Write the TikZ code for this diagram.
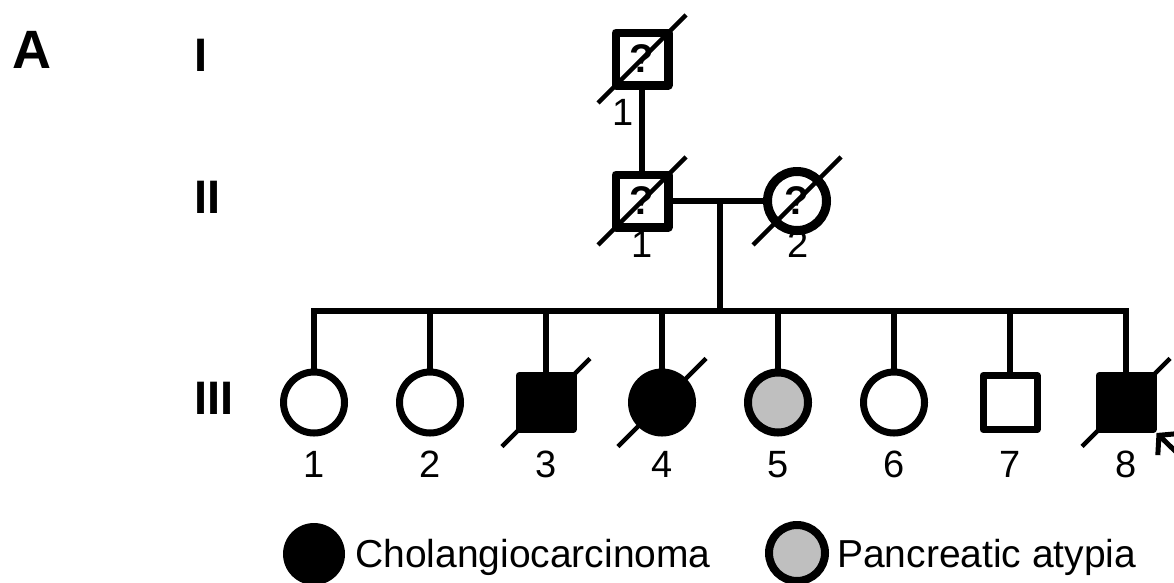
\documentclass[tikz,border=0pt]{standalone}
\usepackage{fontspec}
\setmainfont{Liberation Sans}
\usetikzlibrary{arrows.meta}
\definecolor{affgray}{RGB}{191,191,191}
\newcommand\deceasedmark[1]{\draw[slashline] ([shift={(-44,44)}]#1.center) -- ([shift={(44,-44)}]#1.center);}
\begin{document}
\begin{tikzpicture}[x=1pt,y=-1pt,
  male/.style={draw, rectangle, minimum size=54pt, inner sep=0pt, line width=7pt, line join=round},
  female/.style={draw, circle, minimum size=61pt, inner sep=0pt, line width=7pt},
  affected/.style={fill=black},
  pancreatic/.style={fill=affgray, line width=8pt, minimum size=60pt},
  conn/.style={line width=6pt},
  slashline/.style={line width=4.5pt},
  qmark/.style={inner sep=0pt, font=\fontsize{40}{42}\selectfont\bfseries},
  num/.style={anchor=base, inner sep=0pt, font=\fontsize{38}{40}\selectfont},
  gen/.style={anchor=base west, inner sep=0pt, font=\fontsize{47}{50}\selectfont\bfseries},
  legtext/.style={anchor=base west, inner sep=0pt, font=\fontsize{39}{42}\selectfont}]
\clip (0,0) rectangle (1174,582);
% panel letter and generation labels
\node[anchor=base west, inner sep=0pt, font=\fontsize{54}{56}\selectfont\bfseries] (panel) at (12,68) {A};
\node[gen] (genI) at (194,71) {I};
\node[gen] (genII) at (194,213) {II};
\node[gen] (genIII) at (194,414) {III};
% generation I
\node[male, line width=8.5pt, minimum size=52.5pt] (I1) at (642,59) {};
\node[qmark] (I1q) at (I1.center) {?};
\deceasedmark{I1}
\node[num] (I1n) at (623,125) {1};
% generation II
\node[male, line width=8.5pt, minimum size=52.5pt] (II1) at (642,201) {};
\node[qmark] (II1q) at (II1.center) {?};
\deceasedmark{II1}
\node[num] (II1n) at (642,257) {1};
\node[female, line width=9pt, minimum size=59pt] (II2) at (797,201) {};
\node[qmark] (II2q) at (II2.center) {?};
\deceasedmark{II2}
\node[num] (II2n) at (798,257) {2};
% generation III
\node[female] (III1) at (314,402.5) {};
\node[female] (III2) at (430,402.5) {};
\node[male, affected] (III3) at (546,402.5) {};
\node[female, affected] (III4) at (662,402.5) {};
\node[female, pancreatic] (III5) at (778,402.5) {};
\node[female] (III6) at (894,402.5) {};
\node[male] (III7) at (1010,402.5) {};
\node[male, affected] (III8) at (1126,402.5) {};
\deceasedmark{III3}
\deceasedmark{III4}
\deceasedmark{III8}
\foreach \k/\xx in {1/314,2/430,3/546,4/662,5/778,6/894,7/1010,8/1126}
  \node[num] (III\k n) at (\xx,477) {\k};
% connectors
\draw[conn] (I1.south) -- (II1.north);
\draw[conn] (II1.east) -- (II2.west);
\coordinate (mar) at (720,201);
\coordinate (sib) at (720,311);
\draw[conn] (mar) -- (sib);
\draw[conn] (III1.north) -- (III1 |- sib) -- (III8 |- sib) -- (III8.north);
\foreach \k in {2,...,7}
  \draw[conn] (III\k |- sib) -- (III\k.north);
% proband arrow
\coordinate (arrtail) at (1200,475);
\draw[line width=5pt, -{Straight Barb[length=13pt,width=30pt]}] (arrtail) -- (III8.south east);
% legend
\node[circle, fill=black, minimum size=62pt, inner sep=0pt] (legc) at (314,554) {};
\node[legtext] (legct) at (355,567) {Cholangiocarcinoma};
\node[circle, draw, fill=affgray, line width=8pt, minimum size=56pt, inner sep=0pt] (legp) at (797,553) {};
\node[legtext] (legpt) at (837,567) {Pancreatic atypia};
\end{tikzpicture}
\end{document}
